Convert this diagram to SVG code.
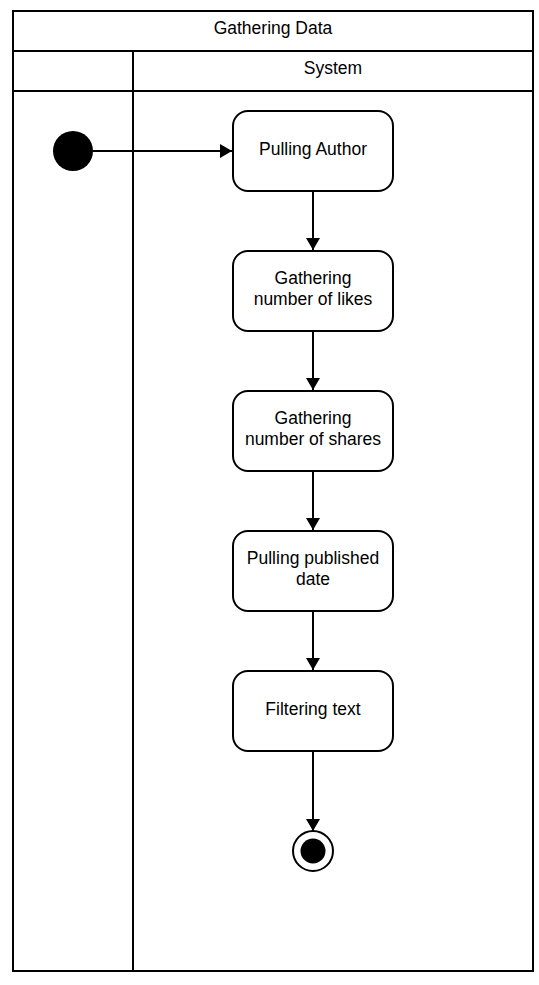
<svg xmlns="http://www.w3.org/2000/svg" width="539" height="985" viewBox="0 0 539 985">
<style>
.ln{stroke:#000;stroke-width:2;fill:none}
.node{fill:#fff;stroke:#000;stroke-width:2}
.t{font-family:"Liberation Sans",Arial,sans-serif;font-size:17.5px;fill:#000;text-anchor:middle}
</style>
<defs>
<marker id="ah" viewBox="0 0 12 16" refX="12" refY="8" markerWidth="12" markerHeight="16" markerUnits="userSpaceOnUse" orient="auto">
<path d="M0,1 L12,8 L0,15 Z" fill="#000"/>
</marker>
</defs>
<rect width="539" height="985" fill="#fff"/>
<g id="pool">
<rect class="ln" x="13" y="11" width="520" height="960"/>
<line class="ln" x1="13" y1="51" x2="533" y2="51"/>
<line class="ln" x1="13" y1="91" x2="533" y2="91"/>
<line class="ln" x1="133" y1="51" x2="133" y2="971"/>
<text class="t" x="273" y="34">Gathering Data</text>
<text class="t" x="333" y="74">System</text>
</g>
<g id="connectors">
<line class="ln" x1="93" y1="151" x2="232" y2="151" marker-end="url(#ah)"/>
<line class="ln" x1="313" y1="191" x2="313" y2="250" marker-end="url(#ah)"/>
<line class="ln" x1="313" y1="331" x2="313" y2="390" marker-end="url(#ah)"/>
<line class="ln" x1="313" y1="471" x2="313" y2="530" marker-end="url(#ah)"/>
<line class="ln" x1="313" y1="611" x2="313" y2="670" marker-end="url(#ah)"/>
<line class="ln" x1="313" y1="751" x2="313" y2="831" marker-end="url(#ah)"/>
</g>
<g id="start"><circle cx="73" cy="151" r="20" fill="#000"/></g>
<g id="n1"><rect class="node" x="233" y="111" width="160" height="80" rx="15"/><text class="t" x="313" y="155">Pulling Author</text></g>
<g id="n2"><rect class="node" x="233" y="251" width="160" height="80" rx="15"/><text class="t" x="313" y="284">Gathering</text><text class="t" x="313" y="305">number of likes</text></g>
<g id="n3"><rect class="node" x="233" y="391" width="160" height="80" rx="15"/><text class="t" x="313" y="424">Gathering</text><text class="t" x="313" y="445">number of shares</text></g>
<g id="n4"><rect class="node" x="233" y="531" width="160" height="80" rx="15"/><text class="t" x="313" y="564">Pulling published</text><text class="t" x="313" y="585">date</text></g>
<g id="n5"><rect class="node" x="233" y="671" width="160" height="80" rx="15"/><text class="t" x="313" y="715">Filtering text</text></g>
<g id="end"><circle cx="313" cy="851" r="20" fill="#fff" stroke="#000" stroke-width="2"/><circle cx="313" cy="851" r="12.5" fill="#000"/></g>
</svg>
